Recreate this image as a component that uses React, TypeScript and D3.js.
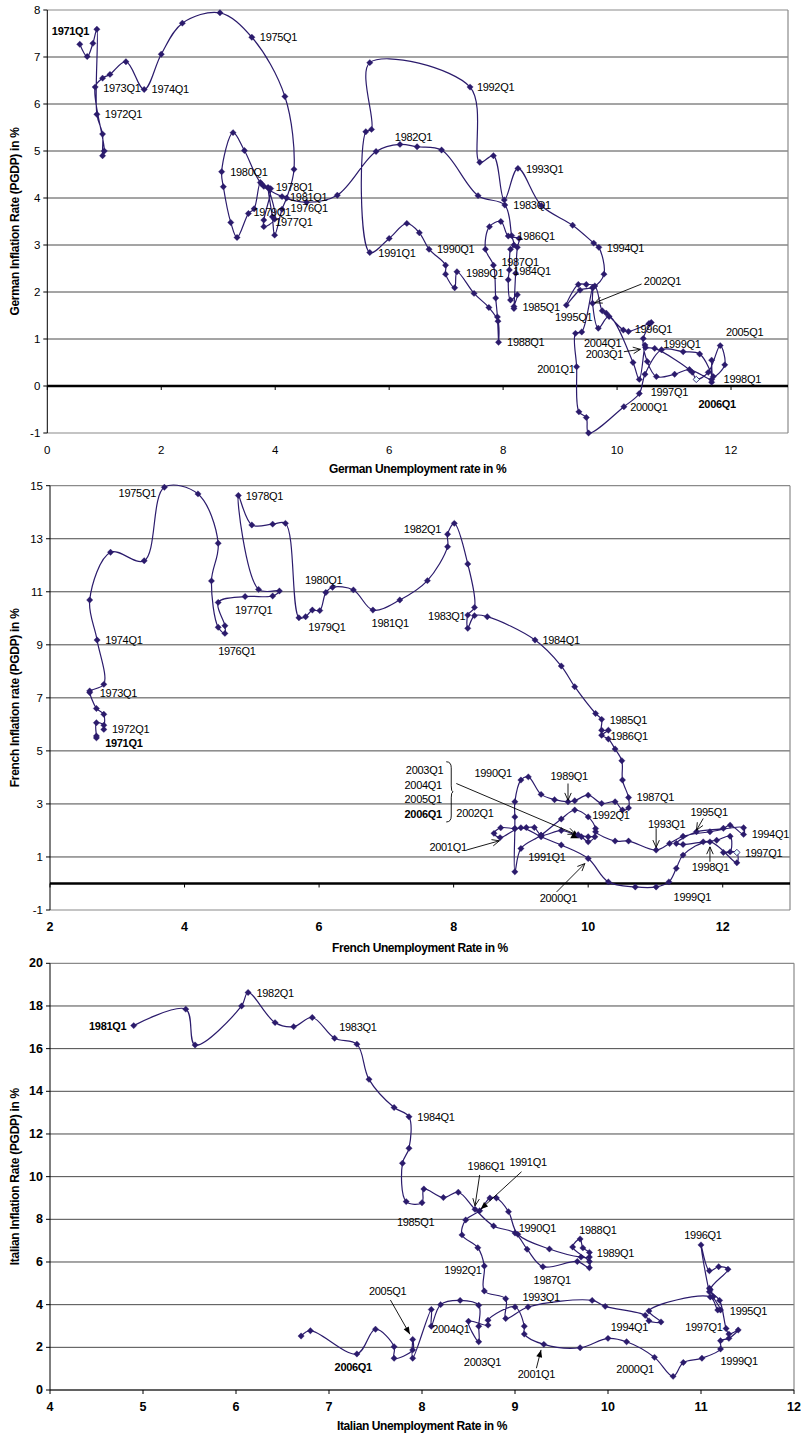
import React from 'react'
import * as d3 from 'd3'

// ---- Germany, 1971Q1 .. 2006Q1 (unemployment %, inflation PGDP %)
const deUnemp = [
  0.57, 0.70, 0.80, 0.87, 0.87, 0.97, 0.97, 1.00, 0.84, 0.97, 1.10, 1.38,
  1.70, 2.00, 2.37, 3.03, 3.59, 4.17, 4.33, 4.20, 4.12, 3.99, 3.95, 3.87,
  3.99, 3.80, 3.80, 3.92, 3.88, 3.80, 3.74, 3.63, 3.53, 3.33, 3.22, 3.09,
  3.06, 3.26, 3.46, 3.76, 4.12, 4.55, 5.09, 5.77, 6.19, 6.49, 6.92, 7.56,
  8.03, 8.15, 8.19, 8.13, 8.11, 8.09, 8.13, 8.25, 8.19, 8.19, 8.22, 8.25,
  8.28, 8.09, 7.96, 7.76, 7.69, 7.83, 7.87, 7.90, 7.92, 7.91, 7.75, 7.49,
  7.19, 7.15, 6.99, 6.99, 6.70, 6.53, 6.31, 6.00, 5.66, 5.59, 5.69, 5.66,
  7.42, 7.59, 7.83, 8.02, 8.26, 8.67, 9.22, 9.59, 9.68, 9.77, 9.58, 9.35,
  9.11, 9.32, 9.46, 9.61, 9.74, 9.81, 10.11, 10.20, 10.56, 10.60, 10.46, 10.53,
  10.69, 11.01, 11.27, 11.66, 11.45, 11.16, 10.78, 10.49, 10.39, 10.12, 9.50, 9.46,
  9.33, 9.29, 9.27, 9.38, 9.57, 9.57, 9.67, 9.86, 10.28, 10.39, 10.49, 10.50,
  10.66, 11.32, 11.39, 11.60, 11.81, 11.89, 11.69, 11.66, 11.66,
]
const deInfl = [
  7.27, 7.01, 7.29, 7.59, 5.78, 5.36, 4.90, 5.00, 6.36, 6.55, 6.63, 6.90,
  6.31, 7.06, 7.72, 7.94, 7.42, 6.16, 4.61, 4.00, 3.76, 3.21, 3.60, 4.22,
  3.55, 3.39, 3.53, 4.20, 4.22, 4.25, 4.33, 3.77, 3.67, 3.16, 3.48, 4.24,
  4.56, 5.39, 5.01, 4.30, 4.03, 3.91, 4.06, 4.99, 5.14, 5.09, 5.02, 4.05,
  3.85, 3.20, 3.00, 2.91, 2.47, 2.26, 1.83, 1.94, 1.69, 1.65, 2.40, 2.95,
  3.14, 3.19, 3.50, 3.39, 2.91, 2.57, 1.87, 1.47, 0.93, 1.38, 1.67, 1.97,
  2.43, 2.09, 2.38, 2.57, 2.91, 3.26, 3.46, 3.14, 2.84, 5.41, 5.46, 6.88,
  6.36, 4.76, 4.90, 3.96, 4.63, 3.84, 3.42, 3.04, 2.95, 2.38, 2.10, 2.04,
  1.72, 2.16, 2.16, 2.13, 1.60, 1.55, 1.19, 1.16, 1.33, 1.35, 1.01, 0.52,
  0.20, 0.25, 0.35, 0.14, 0.68, 0.73, 0.77, 0.25, -0.16, -0.44, -1.00, -0.67,
  -0.55, 0.41, 1.12, 1.15, 2.09, 1.76, 1.23, 1.48, 0.50, 0.14, 0.87, 0.82,
  0.80, 0.29, 0.14, 0.29, 0.86, 0.45, 0.20, 0.55, 0.08,
]
const deLabels: [string, number, number][] = [
  ['1971Q1', 0.08, 7.55], ['1975Q1', 3.73, 7.42], ['1973Q1', 0.98, 6.35], ['1974Q1', 1.83, 6.31],
  ['1972Q1', 1.01, 5.78], ['1992Q1', 7.54, 6.36], ['1982Q1', 6.10, 5.29], ['1993Q1', 8.40, 4.62],
  ['1980Q1', 3.21, 4.56], ['1978Q1', 4.01, 4.24], ['1981Q1', 4.26, 4.03], ['1983Q1', 8.18, 3.86],
  ['1976Q1', 4.27, 3.78], ['1979Q1', 3.62, 3.70], ['1977Q1', 4.00, 3.48], ['1986Q1', 8.25, 3.20],
  ['1994Q1', 9.82, 2.94], ['1990Q1', 6.84, 2.91], ['1991Q1', 5.81, 2.84], ['1987Q1', 7.97, 2.64],
  ['1984Q1', 8.18, 2.44], ['1989Q1', 7.35, 2.41], ['2002Q1', 10.47, 2.24], ['1985Q1', 8.34, 1.69],
  ['1995Q1', 8.91, 1.47], ['1996Q1', 10.31, 1.21], ['2005Q1', 11.91, 1.14], ['1988Q1', 8.07, 0.93],
  ['2004Q1', 9.42, 0.91], ['1999Q1', 10.81, 0.89], ['2003Q1', 9.45, 0.68], ['2001Q1', 8.60, 0.36],
  ['1998Q1', 11.87, 0.14], ['1997Q1', 10.59, -0.12], ['2006Q1', 11.43, -0.38], ['2000Q1', 10.23, -0.44],
]
const deBold = ['1971Q1', '2006Q1']
const deArrows: [number, number, number, number, boolean][] = [
  [10.43, 2.17, 9.61, 1.77, false],
  [10.12, 0.73, 10.41, 0.78, false],
]
const deHollow = [134]

// ---- France, 1971Q1 .. 2006Q1
const frUnemp = [
  2.69, 2.69, 2.69, 2.80, 2.80, 2.80, 2.69, 2.59, 2.59, 2.80, 2.70, 2.59,
  2.90, 3.40, 3.70, 4.20, 4.50, 4.40, 4.50, 4.60, 4.60, 4.50, 4.90, 5.31,
  5.41, 5.10, 4.80, 5.00, 5.31, 5.50, 5.70, 5.80, 5.90, 6.01, 6.10, 6.20,
  6.51, 6.80, 7.20, 7.61, 7.91, 7.91, 8.01, 8.21, 8.31, 8.21, 8.21, 8.31,
  8.50, 9.21, 9.60, 9.80, 10.11, 10.20, 10.20, 10.30, 10.20, 10.30, 10.40, 10.50,
  10.51, 10.60, 10.60, 10.51, 10.40, 10.20, 10.00, 9.80, 9.70, 9.50, 9.30, 9.11,
  9.00, 8.91, 8.91, 8.91, 8.91, 9.00, 9.30, 9.60, 9.80, 10.00, 10.11, 10.11,
  10.40, 10.60, 11.01, 11.21, 11.41, 11.81, 12.31, 12.31, 12.11, 12.01, 11.61, 11.31,
  11.41, 11.71, 11.91, 12.11, 12.11, 12.01, 12.21, 12.21, 11.81, 11.41, 11.31, 11.20,
  11.01, 10.70, 10.30, 10.00, 9.60, 9.30, 9.00, 8.69, 8.60, 8.70, 8.91, 9.08,
  9.20, 9.30, 9.60, 9.80, 9.90, 10.00, 10.10, 10.00, 9.85,
]
const frInfl = [
  5.49, 5.56, 6.06, 5.97, 5.81, 6.38, 6.60, 7.20, 7.26, 7.51, 9.18, 10.69,
  12.49, 12.17, 14.94, 14.69, 12.83, 11.41, 9.66, 9.43, 9.72, 10.60, 10.82, 10.84,
  11.03, 11.09, 14.63, 13.52, 13.55, 13.58, 10.02, 10.06, 10.31, 10.29, 10.97, 11.17,
  11.07, 10.31, 10.69, 11.42, 12.70, 13.17, 13.58, 12.05, 10.41, 10.12, 9.62, 10.10,
  10.06, 9.18, 8.20, 7.42, 6.41, 6.19, 5.78, 5.78, 5.59, 5.45, 5.07, 4.63,
  3.90, 3.24, 2.85, 2.77, 3.08, 3.02, 3.33, 3.12, 3.08, 3.16, 3.36, 4.02,
  3.90, 3.08, 2.51, 2.07, 0.44, 1.32, 1.82, 2.43, 2.77, 2.51, 2.07, 1.95,
  1.60, 1.60, 1.26, 1.51, 1.78, 1.95, 2.10, 1.85, 2.20, 2.08, 1.95, 1.51,
  1.47, 1.57, 1.63, 1.78, 1.19, 1.17, 1.17, 0.78, 1.57, 1.07, 0.57, 0.06,
  -0.13, -0.13, 0.06, 0.94, 1.45, 1.76, 2.10, 1.73, 1.89, 2.10, 2.07, 2.11,
  2.11, 1.82, 2.00, 1.84, 1.76, 1.57, 1.76, 1.76, 1.84,
]
const frLabels: [string, number, number][] = [
  ['1975Q1', 3.02, 14.72], ['1978Q1', 4.91, 14.62], ['1982Q1', 7.26, 13.37], ['1980Q1', 5.79, 11.45],
  ['1977Q1', 4.75, 10.31], ['1983Q1', 7.62, 10.10], ['1981Q1', 6.78, 9.81], ['1979Q1', 5.84, 9.68],
  ['1974Q1', 2.82, 9.18], ['1984Q1', 9.32, 9.18], ['1976Q1', 4.50, 8.77], ['1973Q1', 2.74, 7.17],
  ['1985Q1', 10.32, 6.16], ['1972Q1', 2.92, 5.81], ['1986Q1', 10.33, 5.56], ['1971Q1', 2.82, 5.31],
  ['2003Q1', 7.29, 4.27], ['1990Q1', 8.31, 4.15], ['1989Q1', 9.44, 4.05], ['2004Q1', 7.27, 3.71],
  ['1987Q1', 10.72, 3.25], ['2005Q1', 7.27, 3.17], ['1995Q1', 11.52, 2.70], ['2002Q1', 8.04, 2.64],
  ['2006Q1', 7.27, 2.62], ['1992Q1', 10.06, 2.58], ['1993Q1', 10.89, 2.26], ['1994Q1', 12.43, 1.86],
  ['2001Q1', 7.64, 1.38], ['1997Q1', 12.33, 1.15], ['1991Q1', 9.11, 0.98], ['1998Q1', 11.54, 0.63],
  ['2000Q1', 9.28, -0.53], ['1999Q1', 11.27, -0.51],
]
const frBold = ['1971Q1', '2006Q1']
const frArrows: [number, number, number, number, boolean][] = [
  [8.04, 3.77, 9.81, 1.86, false],
  [9.70, 3.77, 9.70, 3.14, false],
  [11.01, 2.08, 11.01, 1.36, false],
  [11.71, 2.45, 11.61, 2.01, false],
  [8.19, 1.26, 8.68, 1.61, false],
  [11.81, 0.82, 11.81, 1.38, false],
  [9.53, -0.32, 9.95, 0.75, false],
]
const frHollow = [102]
const frTriangle = [123]
const frBrace = [7.89, 7.99, 4.59, 2.32]

// ---- Italy, 1981Q1 .. 2006
const itUnemp = [
  4.90, 5.46, 5.56, 6.06, 6.13, 6.42, 6.62, 6.82, 7.06, 7.30, 7.43, 7.70,
  7.86, 7.86, 7.79, 7.83, 8.00, 8.02, 8.23, 8.39, 8.57, 8.77, 9.00, 9.13,
  9.30, 9.67, 9.80, 9.80, 9.62, 9.70, 9.73, 9.80, 9.80, 9.71, 9.37, 9.03,
  8.93, 8.80, 8.73, 8.62, 8.47, 8.43, 8.60, 8.67, 8.67, 8.90, 8.90, 9.14,
  9.83, 9.97, 10.40, 10.44, 10.57, 10.44, 11.10, 11.18, 11.21, 11.13, 11.09, 11.09,
  11.00, 11.09, 11.19, 11.29, 11.10, 11.20, 11.27, 11.30, 11.40, 11.30, 11.21, 11.21,
  11.01, 10.81, 10.70, 10.50, 10.20, 10.00, 9.70, 9.31, 9.10, 9.10, 9.00, 8.71,
  8.71, 8.50, 8.61, 8.61, 8.61, 8.41, 8.20, 8.10, 8.10, 7.90, 7.90, 7.90,
  7.70, 7.70, 7.50, 7.30, 6.80, 6.70,
]
const itInfl = [
  17.08, 17.85, 16.17, 18.00, 18.63, 17.22, 17.03, 17.46, 16.49, 16.21, 14.56, 13.24,
  12.81, 11.33, 10.63, 8.83, 8.78, 9.42, 9.02, 9.27, 8.47, 7.69, 7.36, 6.60,
  5.78, 6.02, 5.73, 6.02, 6.70, 7.08, 6.66, 6.45, 6.23, 6.23, 6.61, 7.30,
  8.36, 9.00, 9.00, 8.40, 7.97, 7.27, 6.67, 5.81, 4.64, 4.28, 3.35, 3.89,
  4.20, 3.92, 3.50, 3.24, 3.19, 3.70, 4.36, 3.75, 3.75, 4.37, 4.77, 4.60,
  6.80, 5.59, 5.78, 5.66, 4.70, 4.20, 2.88, 2.62, 2.81, 2.42, 2.31, 1.92,
  1.49, 1.29, 0.64, 1.53, 2.26, 2.42, 1.98, 2.14, 2.62, 2.99, 3.89, 3.27,
  3.04, 3.22, 2.26, 2.99, 3.97, 4.20, 4.00, 2.99, 3.77, 1.49, 2.37, 1.88,
  1.49, 2.03, 2.85, 1.69, 2.78, 2.53,
]
const itLabels: [string, number, number][] = [
  ['1981Q1', 4.42, 17.07], ['1982Q1', 6.22, 18.63], ['1983Q1', 7.11, 17.03], ['1984Q1', 7.95, 12.81],
  ['1991Q1', 8.94, 10.70], ['1986Q1', 8.49, 10.52], ['1985Q1', 7.73, 7.89], ['1990Q1', 9.04, 7.58],
  ['1988Q1', 9.69, 7.50], ['1996Q1', 10.82, 7.27], ['1989Q1', 9.88, 6.44], ['1992Q1', 8.24, 5.63],
  ['1987Q1', 9.20, 5.16], ['2005Q1', 7.43, 4.64], ['1993Q1', 9.08, 4.37], ['1995Q1', 11.31, 3.72],
  ['1994Q1', 10.03, 2.97], ['1997Q1', 10.83, 2.97], ['2004Q1', 8.11, 2.86], ['1999Q1', 11.21, 1.36],
  ['2003Q1', 8.45, 1.33], ['2006Q1', 7.06, 1.06], ['2000Q1', 10.09, 0.98], ['2001Q1', 9.03, 0.75],
]
const itBold = ['1981Q1', '2006Q1']
const itArrows: [number, number, number, number, boolean][] = [
  [8.62, 10.08, 8.57, 8.63, false],
  [9.07, 10.23, 8.63, 8.47, true],
  [7.66, 4.22, 7.87, 2.61, true],
  [9.23, 1.02, 9.28, 1.88, true],
]

const deXTicks = [0, 2, 4, 6, 8, 10, 12]
const deYTicks = [-1, 0, 1, 2, 3, 4, 5, 6, 7, 8]
const frXTicks = [2, 4, 6, 8, 10, 12]
const frYTicks = [-1, 1, 3, 5, 7, 9, 11, 13, 15]
const itXTicks = [4, 5, 6, 7, 8, 9, 10, 11, 12]
const itYTicks = [0, 2, 4, 6, 8, 10, 12, 14, 16, 18, 20]

const INK = '#2B1B6C'
const FONT = '"Liberation Sans", Arial, Helvetica, sans-serif'

type PanelProps = {
  u: number[]
  pi: number[]
  xDom: [number, number]
  yDom: [number, number]
  box: [number, number, number, number] // left, right, top, bottom
  xTicks: number[]
  yTicks: number[]
  zero: boolean
  xBold: boolean
  yBold: boolean
  labels: [string, number, number][]
  bold: string[]
  arrows: [number, number, number, number, boolean][]
  hollow?: number[]
  triangle?: number[]
  brace?: number[]
  xTitle: string
  yTitle: string
  xTitleY: number
}

const diamond = (r: number) => `M0,${-r}L${r},0L0,${r}L${-r},0Z`

function arrowHead(x1: number, y1: number, x2: number, y2: number, filled: boolean) {
  const a = Math.atan2(y2 - y1, x2 - x1)
  const len = 8
  const spread = filled ? 0.38 : 0.42
  const p1 = [x2 - len * Math.cos(a - spread), y2 - len * Math.sin(a - spread)]
  const p2 = [x2 - len * Math.cos(a + spread), y2 - len * Math.sin(a + spread)]
  if (filled) return <path d={`M${x2},${y2}L${p1[0]},${p1[1]}L${p2[0]},${p2[1]}Z`} fill="#000" />
  return <path d={`M${p1[0]},${p1[1]}L${x2},${y2}L${p2[0]},${p2[1]}`} fill="none" stroke="#000" strokeWidth={0.9} />
}

function Panel(p: PanelProps) {
  const [left, right, top, bottom] = p.box
  const x = d3.scaleLinear().domain(p.xDom).range([left, right])
  const y = d3.scaleLinear().domain(p.yDom).range([bottom, top])
  const pts: [number, number][] = p.u.map((v, i) => [v, p.pi[i]])
  const line = d3
    .line<[number, number]>()
    .x(d => x(d[0]))
    .y(d => y(d[1]))
    .curve(d3.curveCatmullRom.alpha(0.5))
  const axisY = p.zero ? y(0) : bottom
  const midY = (top + bottom) / 2

  return (
    <g fontFamily={FONT}>
      {/* gridlines */}
      {p.yTicks
        .filter(t => t !== p.yDom[0] && t !== p.yDom[1] && t !== 0)
        .map(t => (
          <line key={'g' + t} x1={left} x2={right} y1={y(t)} y2={y(t)} stroke="#4a4a4a" strokeWidth={1} />
        ))}
      {/* plot border */}
      <line x1={left} x2={right} y1={top} y2={top} stroke="#8a8a8a" strokeWidth={1.2} />
      <line x1={right} x2={right} y1={top} y2={bottom} stroke="#8a8a8a" strokeWidth={1.2} />
      <line x1={left} x2={right} y1={bottom} y2={bottom} stroke="#8a8a8a" strokeWidth={1.2} />
      {/* y axis */}
      <line x1={left} x2={left} y1={top} y2={bottom} stroke="#000" strokeWidth={1} />
      {p.yTicks.map(t => (
        <g key={'y' + t}>
          <line x1={left - 4} x2={left} y1={y(t)} y2={y(t)} stroke="#000" />
          <text
            x={left - 7}
            y={y(t)}
            textAnchor="end"
            dominantBaseline="central"
            fontSize={p.yBold ? 12.5 : 11.5}
            fontWeight={p.yBold ? 'bold' : 'normal'}
          >
            {t}
          </text>
        </g>
      ))}
      {/* x axis */}
      <line x1={left} x2={right} y1={axisY} y2={axisY} stroke="#000" strokeWidth={p.zero ? 2.4 : 1} />
      {p.xTicks.map(t => (
        <g key={'x' + t}>
          <line x1={x(t)} x2={x(t)} y1={axisY} y2={axisY + 4} stroke="#000" />
          <text
            x={x(t)}
            y={bottom + 17}
            textAnchor="middle"
            dominantBaseline="central"
            fontSize={p.xBold ? 12.5 : 11.5}
            fontWeight={p.xBold ? 'bold' : 'normal'}
          >
            {t}
          </text>
        </g>
      ))}
      <text
        x={(left + right) / 2}
        y={p.xTitleY}
        textAnchor="middle"
        dominantBaseline="central"
        fontSize={12}
        fontWeight="bold"
        letterSpacing={-0.4}
      >
        {p.xTitle}
      </text>
      <text
        transform={`translate(15,${midY}) rotate(-90)`}
        textAnchor="middle"
        dominantBaseline="central"
        fontSize={12}
        fontWeight="bold"
        letterSpacing={-0.3}
      >
        {p.yTitle}
      </text>

      {/* series */}
      <path d={line(pts) || ''} fill="none" stroke={INK} strokeWidth={1.2} />
      {pts.map((d, i) => {
        const hollow = p.hollow && p.hollow.includes(i)
        const tri = p.triangle && p.triangle.includes(i)
        if (tri) {
          return (
            <path
              key={i}
              transform={`translate(${x(d[0])},${y(d[1])})`}
              d="M0,-4.5L4.5,3.5L-4.5,3.5Z"
              fill="#000"
            />
          )
        }
        return (
          <path
            key={i}
            transform={`translate(${x(d[0])},${y(d[1])})`}
            d={diamond(3.2)}
            fill={hollow ? '#e8ffff' : INK}
            stroke={INK}
            strokeWidth={hollow ? 0.9 : 0.3}
          />
        )
      })}

      {/* annotations */}
      {p.arrows.map((a, i) => {
        const x1 = x(a[0]), y1 = y(a[1]), x2 = x(a[2]), y2 = y(a[3])
        return (
          <g key={'a' + i}>
            <line x1={x1} y1={y1} x2={x2} y2={y2} stroke="#000" strokeWidth={0.9} />
            {arrowHead(x1, y1, x2, y2, a[4])}
          </g>
        )
      })}
      {p.brace && (() => {
        const bx0 = x(p.brace[0]), bx1 = x(p.brace[1])
        const by0 = y(p.brace[2]), by1 = y(p.brace[3])
        const bm = (by0 + by1) / 2
        const d = `M${bx0},${by0} Q${bx0 + 5},${by0} ${bx0 + 5},${by0 + 6} L${bx0 + 5},${bm - 6} Q${bx0 + 5},${bm} ${bx1},${bm} Q${bx0 + 5},${bm} ${bx0 + 5},${bm + 6} L${bx0 + 5},${by1 - 6} Q${bx0 + 5},${by1} ${bx0},${by1}`
        return <path d={d} fill="none" stroke="#000" strokeWidth={0.9} />
      })()}
      {p.labels.map(([t, lu, lp]) => (
        <text
          key={'l' + t}
          x={x(lu)}
          y={y(lp)}
          dominantBaseline="central"
          fontSize={11}
          letterSpacing={-0.3}
          fontWeight={p.bold.includes(t) ? 'bold' : 'normal'}
        >
          {t}
        </text>
      ))}
    </g>
  )
}

export default function App() {
  return (
    <svg
      width={801}
      height={1437}
      style={{ position: 'absolute', left: 0, top: 0, background: '#fff' }}
    >
      <rect width={801} height={1437} fill="#fff" />
      <Panel
        u={deUnemp}
        pi={deInfl}
        xDom={[0, 13]}
        yDom={[-1, 8]}
        box={[47.3, 788, 10, 433]}
        xTicks={deXTicks}
        yTicks={deYTicks}
        zero={true}
        xBold={false}
        yBold={false}
        labels={deLabels}
        bold={deBold}
        arrows={deArrows}
        hollow={deHollow}
        xTitle="German Unemployment rate in %"
        yTitle="German Inflation Rate (PGDP) in %"
        xTitleY={469}
      />
      <Panel
        u={frUnemp}
        pi={frInfl}
        xDom={[2, 13]}
        yDom={[-1, 15]}
        box={[50, 790, 485.7, 910]}
        xTicks={frXTicks}
        yTicks={frYTicks}
        zero={true}
        xBold={true}
        yBold={false}
        labels={frLabels}
        bold={frBold}
        arrows={frArrows}
        hollow={frHollow}
        triangle={frTriangle}
        brace={frBrace}
        xTitle="French Unemployment Rate in %"
        yTitle="French Inflation rate (PGDP) in %"
        xTitleY={948}
      />
      <Panel
        u={itUnemp}
        pi={itInfl}
        xDom={[4, 12]}
        yDom={[0, 20]}
        box={[50, 794, 963.3, 1390]}
        xTicks={itXTicks}
        yTicks={itYTicks}
        zero={false}
        xBold={true}
        yBold={true}
        labels={itLabels}
        bold={itBold}
        arrows={itArrows}
        xTitle="Italian Unemployment Rate in %"
        yTitle="Italian Inflation Rate (PGDP) in %"
        xTitleY={1426}
      />
    </svg>
  )
}
